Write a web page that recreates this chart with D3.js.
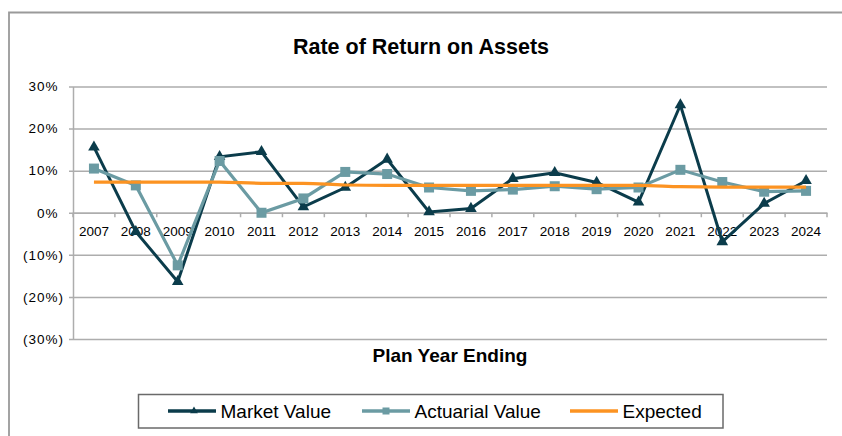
<!DOCTYPE html>
<html>
<head>
<meta charset="utf-8">
<script src="https://cdn.jsdelivr.net/npm/d3@7"></script>
<style>
  body { margin: 0; background: #fff; }
  text { font-family: Arial, "Liberation Sans", sans-serif; }
</style>
</head>
<body>
<div id="chart"></div>
<script>
"use strict";

var years = ["2007", "2008", "2009", "2010", "2011", "2012", "2013", "2014", "2015",
             "2016", "2017", "2018", "2019", "2020", "2021", "2022", "2023", "2024"];
var marketValue = [15.6, -4.5, -16.4, 13.3, 14.5, 1.4, 6.0, 12.7, 0.2, 1.0, 8.1, 9.5, 7.2, 2.5, 25.6, -6.9, 2.2, 7.6];
var actuarialValue = [10.5, 6.5, -12.5, 12.3, 0.0, 3.4, 9.7, 9.2, 6.0, 5.2, 5.5, 6.3, 5.6, 6.0, 10.2, 7.3, 5.0, 5.2];
var expected = [7.3, 7.3, 7.3, 7.3, 7.0, 7.0, 6.6, 6.5, 6.5, 6.5, 6.5, 6.5, 6.5, 6.5, 6.2, 6.1, 6.1, 6.1];
var yTicks = [-30, -20, -10, 0, 10, 20, 30];
var seriesNames = ["Market Value", "Actuarial Value", "Expected"];

var chartWidth = 842;
var chartHeight = 436;
var plotLeft = 73, plotRight = 827, plotTop = 86.5, plotBottom = 339;

var colMarket = "#0b3c4b";
var colActuarial = "#6b9ba3";
var colExpected = "#fc9322";
var colGrid = "#adadad";

var svg = d3.select("#chart")
            .append("svg")
            .attr("width", chartWidth)
            .attr("height", chartHeight);

// outer chart border
svg.append("path")
   .attr("d", "M9,437 L9,12.5 L843,12.5")
   .attr("fill", "none")
   .attr("stroke", "#9a9a9a")
   .attr("stroke-width", 1.8);

svg.append("text")
   .attr("x", 421)
   .attr("y", 53.5)
   .attr("text-anchor", "middle")
   .style("font-size", "21.5px")
   .style("font-weight", "bold")
   .text("Rate of Return on Assets");

var xScale = d3.scaleBand()
               .domain(years)
               .range([plotLeft, plotRight])
               .padding(0);

var yScale = d3.scaleLinear()
               .domain([-30, 30])
               .range([plotBottom, plotTop]);

var cx = function(d, i) { return xScale(years[i]) + xScale.bandwidth() / 2; };

// y axis with gridlines
var yAxis = d3.axisLeft(yScale)
              .tickValues(yTicks)
              .tickSize(-(plotRight - plotLeft))
              .tickSizeOuter(0)
              .tickPadding(9)
              .tickFormat(function(d) { return d < 0 ? "(" + Math.abs(d) + "%)" : d + "%"; });

var gy = svg.append("g")
            .attr("transform", "translate(" + plotLeft + ",0)")
            .call(yAxis);

gy.select(".domain").attr("stroke", colGrid).attr("stroke-width", 1.5);
gy.selectAll(".tick line")
  .attr("x1", -4)
  .attr("stroke", colGrid)
  .attr("stroke-width", 1.5);
gy.selectAll(".tick text")
  .style("font-size", "13.5px")
  .style("letter-spacing", "1px")
  .attr("fill", "#000")
  .attr("dx", function(d) { return d >= 0 ? "-0.4em" : 0; });

// x axis on the zero line
var xAxis = d3.axisBottom(xScale)
              .tickSize(0)
              .tickPadding(13.5);

var gx = svg.append("g")
            .attr("transform", "translate(0," + yScale(0) + ")")
            .call(xAxis);

gx.select(".domain").attr("stroke", colGrid).attr("stroke-width", 1.5);
gx.selectAll(".tick text").style("font-size", "13.5px").attr("fill", "#000");

gx.selectAll(".boundary")
  .data(years.concat(["end"]))
  .enter()
  .append("line")
  .attr("x1", function(d) { return d === "end" ? plotRight : xScale(d); })
  .attr("x2", function(d) { return d === "end" ? plotRight : xScale(d); })
  .attr("y1", 0)
  .attr("y2", 4.5)
  .attr("stroke", colGrid)
  .attr("stroke-width", 1.5);

svg.append("text")
   .attr("x", (plotLeft + plotRight) / 2)
   .attr("y", 361.5)
   .attr("text-anchor", "middle")
   .style("font-size", "19px")
   .style("font-weight", "bold")
   .text("Plan Year Ending");

var line = d3.line()
             .x(cx)
             .y(function(d) { return yScale(d); });

var smooth = d3.line()
               .x(cx)
               .y(function(d) { return yScale(d); })
               .curve(d3.curveMonotoneX);

// Market Value
svg.append("path")
   .datum(marketValue)
   .attr("d", line)
   .attr("fill", "none")
   .attr("stroke", colMarket)
   .attr("stroke-width", 3);

svg.selectAll(".tri")
   .data(marketValue)
   .enter()
   .append("path")
   .attr("class", "tri")
   .attr("transform", function(d, i) { return "translate(" + cx(d, i) + "," + yScale(d) + ")"; })
   .attr("d", d3.symbol().type(d3.symbolTriangle).size(58))
   .attr("fill", colMarket);

// Actuarial Value
svg.append("path")
   .datum(actuarialValue)
   .attr("d", line)
   .attr("fill", "none")
   .attr("stroke", colActuarial)
   .attr("stroke-width", 3.2);

svg.selectAll(".sq")
   .data(actuarialValue)
   .enter()
   .append("rect")
   .attr("class", "sq")
   .attr("x", function(d, i) { return cx(d, i) - 5; })
   .attr("y", function(d) { return yScale(d) - 5; })
   .attr("width", 10)
   .attr("height", 10)
   .attr("fill", colActuarial);

// Expected
svg.append("path")
   .datum(expected)
   .attr("d", smooth)
   .attr("fill", "none")
   .attr("stroke", colExpected)
   .attr("stroke-width", 3.2);

// legend
var legend = svg.append("g");

legend.append("rect")
      .attr("x", 138.5)
      .attr("y", 394.5)
      .attr("width", 584.5)
      .attr("height", 33.5)
      .attr("fill", "#fff")
      .attr("stroke", "#6a6a6a")
      .attr("stroke-width", 1.5);

var legX = [168, 362, 570];
var legColors = [colMarket, colActuarial, colExpected];

legend.selectAll(".legline")
      .data(seriesNames)
      .enter()
      .append("line")
      .attr("x1", function(d, i) { return legX[i]; })
      .attr("x2", function(d, i) { return legX[i] + 48; })
      .attr("y1", 411)
      .attr("y2", 411)
      .attr("stroke", function(d, i) { return legColors[i]; })
      .attr("stroke-width", 3.5);

legend.append("path")
      .attr("transform", "translate(" + (legX[0] + 26) + ",411)")
      .attr("d", d3.symbol().type(d3.symbolTriangle).size(26))
      .attr("fill", colMarket);

legend.append("rect")
      .attr("x", legX[1] + 24 - 3.5)
      .attr("y", 411 - 3.5)
      .attr("width", 7)
      .attr("height", 7)
      .attr("fill", colActuarial);

legend.selectAll(".legtext")
      .data(seriesNames)
      .enter()
      .append("text")
      .attr("x", function(d, i) { return legX[i] + 52.5; })
      .attr("y", 418)
      .style("font-size", "19px")
      .text(function(d) { return d; });
</script>
</body>
</html>
